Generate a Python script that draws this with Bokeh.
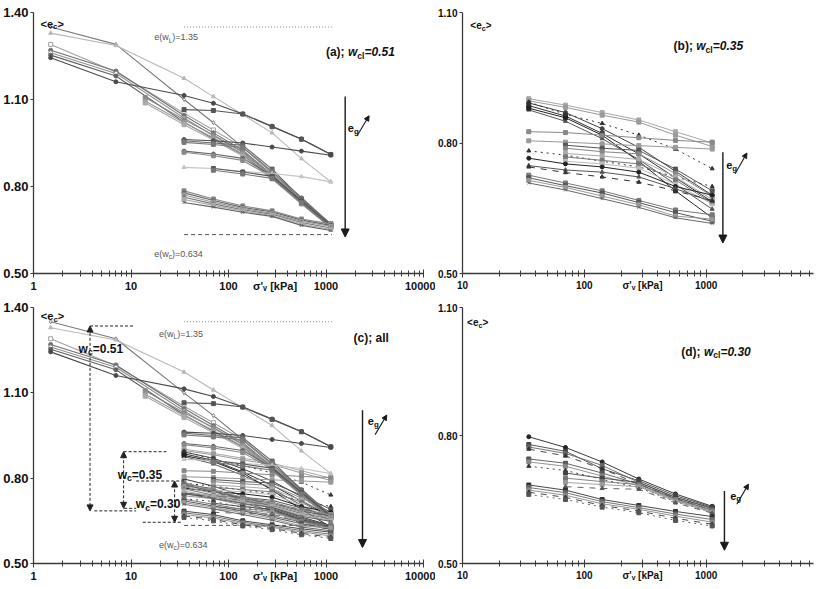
from bokeh.plotting import figure
from bokeh.layouts import column, row
from bokeh.models import FixedTicker, PrintfTickFormatter, Label, Arrow, NormalHead
from bokeh.embed import file_html
from bokeh.resources import INLINE

# ---------------------------------------------------------------- data
# vertical effective stress steps [kPa]
S_FULL = [1.5, 7, 35, 70, 140, 280, 560, 1120]
S_14 = [14, 35, 70, 140, 280, 560, 1120]
S_35 = [35, 70, 140, 280, 560, 1120]
S_70 = [70, 140, 280, 560, 1120]

# (a) w_cl = 0.51 : mean void ratio <e_c> along each compression curve
A_SIGMA = [S_FULL] * 7 + [S_14] * 3 + [S_35] * 7 + [S_70] * 2 + [S_35] * 6
A_E = [
    [1.350, 1.290, 1.100, 1.020, 0.935, 0.850, 0.762, 0.670],
    [1.329, 1.286, 1.173, 1.110, 1.048, 0.985, 0.896, 0.816],
    [1.290, 1.195, 1.053, 0.995, 0.935, 0.845, 0.755, 0.672],
    [1.270, 1.198, 1.045, 0.985, 0.925, 0.840, 0.750, 0.667],
    [1.261, 1.190, 1.036, 0.975, 0.918, 0.833, 0.745, 0.662],
    [1.253, 1.181, 1.022, 0.965, 0.910, 0.828, 0.740, 0.658],
    [1.244, 1.161, 1.114, 1.087, 1.050, 1.008, 0.964, 0.911],
    [1.107, 1.030, 0.978, 0.920, 0.838, 0.752, 0.668],
    [1.095, 1.020, 0.968, 0.912, 0.832, 0.746, 0.663],
    [1.088, 1.013, 0.960, 0.905, 0.826, 0.740, 0.660],
    [1.065, 1.062, 1.050, 1.006, 0.963, 0.910],
    [0.962, 0.958, 0.950, 0.936, 0.922, 0.908],
    [0.958, 0.950, 0.942, 0.860, 0.758, 0.670],
    [0.952, 0.945, 0.935, 0.852, 0.752, 0.666],
    [0.922, 0.912, 0.897, 0.838, 0.748, 0.664],
    [0.918, 0.906, 0.890, 0.832, 0.742, 0.660],
    [0.866, 0.862, 0.852, 0.845, 0.834, 0.816],
    [0.862, 0.850, 0.835, 0.750, 0.666],
    [0.856, 0.843, 0.828, 0.744, 0.661],
    [0.785, 0.757, 0.733, 0.716, 0.688, 0.671],
    [0.778, 0.752, 0.728, 0.712, 0.684, 0.666],
    [0.771, 0.746, 0.724, 0.708, 0.680, 0.662],
    [0.763, 0.740, 0.720, 0.704, 0.676, 0.657],
    [0.755, 0.735, 0.716, 0.700, 0.671, 0.652],
    [0.745, 0.729, 0.711, 0.697, 0.666, 0.648],
]

# (b) w_cl = 0.35
B_SIGMA = [S_35] * 10 + [S_70] * 5 + [S_35] * 7
B_E = [
    [0.902, 0.887, 0.870, 0.853, 0.826, 0.800],
    [0.897, 0.882, 0.864, 0.848, 0.818, 0.792],
    [0.892, 0.870, 0.833, 0.790, 0.735, 0.680],
    [0.886, 0.862, 0.822, 0.775, 0.720, 0.665],
    [0.876, 0.850, 0.810, 0.762, 0.705, 0.648],
    [0.880, 0.858, 0.818, 0.758, 0.690, 0.628],
    [0.894, 0.866, 0.845, 0.818, 0.786, 0.741],
    [0.826, 0.824, 0.818, 0.812, 0.806, 0.802],
    [0.805, 0.802, 0.798, 0.794, 0.790, 0.786],
    [0.782, 0.772, 0.758, 0.745, 0.722, 0.700],
    [0.795, 0.788, 0.783, 0.740, 0.690],
    [0.788, 0.780, 0.775, 0.730, 0.678],
    [0.776, 0.770, 0.762, 0.722, 0.670],
    [0.768, 0.760, 0.752, 0.715, 0.662],
    [0.758, 0.752, 0.742, 0.705, 0.660],
    [0.765, 0.752, 0.745, 0.733, 0.700, 0.680],
    [0.748, 0.738, 0.733, 0.722, 0.695, 0.665],
    [0.745, 0.732, 0.722, 0.710, 0.690, 0.668],
    [0.726, 0.708, 0.690, 0.668, 0.646, 0.635],
    [0.720, 0.702, 0.685, 0.663, 0.640, 0.620],
    [0.714, 0.698, 0.678, 0.658, 0.632, 0.625],
    [0.708, 0.692, 0.672, 0.652, 0.628, 0.615],
]

# (d) w_cl = 0.30
D_SIGMA = [S_35] * 7 + [S_70] * 4 + [S_35] * 5
D_E = [
    [0.797, 0.772, 0.738, 0.698, 0.663, 0.634],
    [0.779, 0.763, 0.722, 0.694, 0.659, 0.632],
    [0.773, 0.758, 0.730, 0.690, 0.655, 0.628],
    [0.768, 0.752, 0.722, 0.686, 0.652, 0.625],
    [0.745, 0.735, 0.712, 0.686, 0.652, 0.625],
    [0.738, 0.728, 0.705, 0.682, 0.648, 0.622],
    [0.728, 0.718, 0.697, 0.678, 0.645, 0.620],
    [0.712, 0.700, 0.690, 0.655, 0.630],
    [0.700, 0.692, 0.685, 0.650, 0.625],
    [0.690, 0.685, 0.680, 0.646, 0.620],
    [0.680, 0.676, 0.674, 0.642, 0.618],
    [0.684, 0.672, 0.650, 0.636, 0.622, 0.610],
    [0.678, 0.666, 0.645, 0.631, 0.616, 0.603],
    [0.672, 0.660, 0.640, 0.627, 0.611, 0.597],
    [0.667, 0.655, 0.636, 0.623, 0.606, 0.592],
    [0.662, 0.650, 0.632, 0.619, 0.601, 0.588],
]

# reference void ratios at the liquid limit and at the clay water content
E_WL = 1.35
E_WC = 0.634
REF_SIGMA = [35, 1150]

X_TICKS_A = [1, 10, 100, 1000, 10000]
X_TICKS_B = [10, 100, 1000]
Y_TICKS_A = [0.50, 0.80, 1.10, 1.40]
Y_TICKS_B = [0.50, 0.80, 1.10]
X_TITLE = "σ'ᵥ [kPa]"
X_TITLE_AT = 300  # the x title sits in the tick-label row at this stress

# ---------------------------------------------------------------- styles
A_STYLE = [
    ("#7a7a7a", "diamond", True, "solid"), ("#b8b8b8", "triangle", False, "solid"),
    ("#a0a0a0", "square", True, "solid"), ("#707070", "circle", False, "solid"),
    ("#909090", "circle", True, "solid"), ("#606060", "circle", False, "solid"),
    ("#4a4a4a", "circle", False, "solid"), ("#888888", "square", False, "solid"),
    ("#9a9a9a", "square", False, "solid"), ("#aaaaaa", "square", False, "solid"),
    ("#555555", "square", False, "solid"), ("#4a4a4a", "circle", False, "solid"),
    ("#666666", "square", False, "solid"), ("#7a7a7a", "square", False, "solid"),
    ("#666666", "circle", False, "solid"), ("#8a8a8a", "square", False, "solid"),
    ("#c4c4c4", "triangle", False, "solid"), ("#555555", "square", False, "solid"),
    ("#777777", "square", False, "solid"), ("#8a8a8a", "square", False, "solid"),
    ("#666666", "circle", False, "solid"), ("#9a9a9a", "square", False, "solid"),
    ("#777777", "triangle", False, "solid"), ("#aaaaaa", "square", False, "solid"),
    ("#666666", "x", False, "solid"),
]
B_STYLE = [
    ("#a8a8a8", "square", False, "solid"), ("#999999", "square", False, "solid"),
    ("#444444", "circle", False, "solid"), ("#333333", "square", False, "solid"),
    ("#555555", "triangle", False, "solid"), ("#222222", "square", False, "solid"),
    ("#333333", "triangle", False, "dotted"), ("#888888", "square", False, "solid"),
    ("#999999", "square", False, "solid"), ("#333333", "triangle", False, "dotted"),
    ("#555555", "square", False, "solid"), ("#888888", "square", False, "solid"),
    ("#aaaaaa", "square", False, "solid"), ("#777777", "square", False, "solid"),
    ("#bbbbbb", "square", False, "solid"), ("#222222", "circle", False, "solid"),
    ("#555555", "triangle", False, "solid"), ("#333333", "triangle", False, "dashed"),
    ("#777777", "square", False, "solid"), ("#555555", "square", False, "solid"),
    ("#999999", "square", False, "solid"), ("#666666", "x", False, "solid"),
]
D_STYLE = [
    ("#222222", "circle", False, "solid"), ("#444444", "square", False, "solid"),
    ("#666666", "square", False, "solid"), ("#333333", "triangle", False, "dashed"),
    ("#555555", "square", False, "solid"), ("#888888", "square", False, "solid"),
    ("#333333", "triangle", False, "dotted"), ("#444444", "square", False, "solid"),
    ("#777777", "square", False, "solid"), ("#999999", "square", False, "solid"),
    ("#555555", "triangle", False, "dashed"), ("#333333", "square", False, "solid"),
    ("#666666", "square", False, "solid"), ("#888888", "square", False, "solid"),
    ("#333333", "triangle", False, "dashed"), ("#555555", "square", False, "dotted"),
]

FONT = "Liberation Sans"
BOLD_W = {"0": .556, "1": .556, "2": .556, "3": .556, "4": .556, "5": .556, "6": .556,
          "7": .556, "8": .556, "9": .556, ".": .278, "(": .333, ")": .333, ";": .333,
          " ": .278, "=": .584, "<": .584, ">": .584, "e": .556, "w": .778, "c": .556,
          "l": .278, "a": .556, "b": .611, "d": .611, "L": .611, "g": .611}
REG_W = {"0": .556, "1": .556, "2": .556, "3": .556, "4": .556, "5": .556, "6": .556,
         "7": .556, "8": .556, "9": .556, ".": .278, "(": .333, ")": .333, ";": .278,
         " ": .278, "=": .584, "e": .556, "w": .722, "c": .5, "L": .556, "l": .222}


def text_width(s, size, bold):
    table = BOLD_W if bold else REG_W
    return sum(table.get(ch, 0.56) for ch in s) * size


def rich_label(p, x, y, parts, size=12, color="#111111"):
    """Place a run of text pieces; pieces flagged as sub are set lower and smaller."""
    off = 0.0
    for txt, style, sub in parts:
        fs = size * 0.72 if sub else size
        dy = -size * 0.3 if sub else 0
        p.add_layout(Label(x=x, y=y, x_offset=off, y_offset=dy, text=txt,
                           text_font=FONT, text_font_size=f"{fs:.1f}px",
                           text_font_style=style, text_color=color,
                           text_baseline="alphabetic", text_align="left"))
        off += text_width(txt, fs, "bold" in style)


def make_panel(width, height, x_range, y_range, x_ticks, y_ticks, borders,
               x_font, y_font):
    left, right, top, bottom = borders
    p = figure(width=width, height=height, x_axis_type="log",
               x_range=x_range, y_range=y_range,
               output_backend="svg", toolbar_location=None,
               min_border_left=left, min_border_right=right,
               min_border_top=top, min_border_bottom=bottom,
               background_fill_color="white", border_fill_color="white")
    p.outline_line_color = None
    p.grid.visible = False
    minors = [m * d for d in (1, 10, 100, 1000) for m in range(2, 10)
              if m * d != X_TITLE_AT]
    p.xaxis.ticker = FixedTicker(ticks=sorted(x_ticks + [X_TITLE_AT]),
                                 minor_ticks=minors)
    p.xaxis.formatter = PrintfTickFormatter(format="%d")
    p.xaxis.major_label_overrides = {X_TITLE_AT: X_TITLE}
    p.yaxis.ticker = FixedTicker(ticks=y_ticks)
    p.yaxis.formatter = PrintfTickFormatter(format="%.2f")
    for ax in (p.xaxis, p.yaxis):
        ax.axis_line_color = "#3a3a3a"
        ax.axis_line_width = 1.3
        ax.major_tick_line_color = "#3a3a3a"
        ax.major_tick_line_width = 1.0
        ax.minor_tick_line_color = "#3a3a3a"
        ax.major_label_text_font = FONT
        ax.major_label_text_font_style = "bold"
        ax.major_label_text_color = "#111111"
    p.xaxis.major_tick_in = 4
    p.xaxis.major_tick_out = 4
    p.xaxis.minor_tick_in = 3
    p.xaxis.minor_tick_out = 3
    p.xaxis.major_label_standoff = 2
    p.xaxis.major_label_text_font_size = x_font
    p.yaxis.major_tick_in = 0
    p.yaxis.major_tick_out = 3
    p.yaxis.minor_tick_line_color = None
    p.yaxis.major_label_standoff = 2
    p.yaxis.major_label_text_font_size = y_font
    return p


def draw_curves(p, sigmas, es, styles, lw):
    for xs, ys, (color, marker, hollow, dash) in zip(sigmas, es, styles):
        p.line(xs, ys, line_color=color, line_width=lw, line_dash=dash)
        p.scatter(xs, ys, marker=marker, size=4, line_color=color, line_width=1,
                  fill_color="white" if hollow else color)


def draw_arrow(p, x0, y0, x1, y1, size=8, lw=1.4):
    p.add_layout(Arrow(x_start=x0, y_start=y0, x_end=x1, y_end=y1,
                       line_color="#1a1a1a", line_width=lw,
                       end=NormalHead(size=size, fill_color="#1a1a1a",
                                      line_color="#1a1a1a")))


def eg_marker(p, xl, yl, ax0, ay0, ax1, ay1):
    rich_label(p, xl, yl, [("e", "bold", False), ("g", "bold", True)], size=11)
    draw_arrow(p, ax0, ay0, ax1, ay1, size=5, lw=1.1)


def ec_label(p, x, y, size=11):
    rich_label(p, x, y, [("<e", "bold", False), ("c", "bold", True),
                         (">", "bold", False)], size=size)


def limit_lines(p, xl, yl_top, yl_bot):
    p.line(REF_SIGMA, [E_WL, E_WL], line_color="#8a8a8a", line_width=1,
           line_dash="1 2")
    p.line(REF_SIGMA, [E_WC, E_WC], line_color="#555555", line_width=1,
           line_dash="4 3")
    rich_label(p, xl, yl_top, [("e(w", "normal", False), ("L", "normal", True),
                               (")=1.35", "normal", False)], size=9, color="#555555")
    rich_label(p, xl, yl_bot, [("e(w", "normal", False), ("c", "normal", True),
                               (")=0.634", "normal", False)], size=9, color="#555555")


def title(p, x, y, tag, wcl):
    rich_label(p, x, y, [(tag, "bold", False), ("w", "bold italic", False),
                         ("cl", "bold", True), (wcl, "bold italic", False)], size=12)


# ---------------------------------------------------------------- (a)
pa = make_panel(435, 294, (1, 10000), (0.5, 1.4), X_TICKS_A, Y_TICKS_A,
                (32, 12, 12, 19), "11px", "13px")
limit_lines(pa, 17.3, 1.314, 0.568)
draw_curves(pa, A_SIGMA, A_E, A_STYLE, 1.1)
ec_label(pa, 1.18, 1.362)
title(pa, 998, 1.263, "(a); ", "=0.51")
draw_arrow(pa, 1573, 1.110, 1573, 0.626)
eg_marker(pa, 1675, 1.002, 2071, 0.973, 2768, 1.044)

# ---------------------------------------------------------------- (b)
pb = make_panel(387, 294, (10, 7600), (0.5, 1.1), X_TICKS_B, Y_TICKS_B,
                (27, 9, 12, 18), "10px", "10px")
draw_curves(pb, B_SIGMA, B_E, B_STYLE, 1.0)
ec_label(pb, 11.6, 1.070, size=10)
title(pb, 540, 1.023, "(b); ", "=0.35")
draw_arrow(pb, 1371, 0.779, 1371, 0.570)
eg_marker(pb, 1459, 0.750, 1729, 0.7295, 2159, 0.777)

# ---------------------------------------------------------------- (c)
pc = make_panel(435, 295, (1, 10000), (0.5, 1.4), X_TICKS_A, Y_TICKS_A,
                (32, 12, 8, 26), "11px", "13px")
limit_lines(pc, 19.4, 1.306, 0.566)
draw_curves(pc, D_SIGMA, D_E, D_STYLE, 0.9)
draw_curves(pc, B_SIGMA, B_E, B_STYLE, 1.0)
draw_curves(pc, A_SIGMA, A_E, A_STYLE, 1.1)
ec_label(pc, 1.19, 1.370)
rich_label(pc, 1916, 1.292, [("(c); all", "bold", False)], size=12)
draw_arrow(pc, 2368, 1.039, 2368, 0.556)
eg_marker(pc, 2684, 1.000, 3190, 0.953, 4200, 1.022)

# water-content brackets
BRACKETS = [
    # x of arrow, bottom e, top e, top line span, bottom line span, label pos, text
    (3.8, 0.685, 1.335, (3.8, 10.6), (4.2, 11.3), (2.9, 1.255), "=0.51"),
    (8.4, 0.694, 0.893, (8.4, 23.0), (8.5, 11.3), (7.3, 0.812), "=0.35"),
    (28.0, 0.645, 0.790, (11.3, 35.0), (13.2, 34.0), (11.2, 0.708), "=0.30"),
]
for xa, e_lo, e_hi, top_span, bot_span, (lx, ly), txt in BRACKETS:
    pc.line(list(top_span), [e_hi, e_hi], line_color="#222222", line_width=1,
            line_dash="3 2")
    pc.line(list(bot_span), [e_lo, e_lo], line_color="#222222", line_width=1,
            line_dash="3 2")
    pc.add_layout(Arrow(x_start=xa, y_start=e_lo, x_end=xa, y_end=e_hi,
                        line_color="#222222", line_width=1, line_dash="3 2",
                        start=NormalHead(size=6, fill_color="#222222",
                                         line_color="#222222"),
                        end=NormalHead(size=6, fill_color="#222222",
                                       line_color="#222222")))
    rich_label(pc, lx, ly, [("w", "bold", False), ("c", "bold", True),
                            (txt, "bold", False)], size=12)

# ---------------------------------------------------------------- (d)
pd_ = make_panel(387, 295, (10, 7600), (0.5, 1.1), X_TICKS_B, Y_TICKS_B,
                 (27, 9, 13, 24), "10px", "10px")
draw_curves(pd_, D_SIGMA, D_E, D_STYLE, 0.9)
ec_label(pd_, 10.9, 1.066, size=10)
title(pd_, 624, 0.996, "(d); ", "=0.30")
draw_arrow(pd_, 1412, 0.670, 1412, 0.531)
eg_marker(pd_, 1574, 0.659, 1785, 0.639, 2222, 0.686)

layout = column(row(pa, pb), row(pc, pd_))

with open("out.html", "w") as f:
    f.write(file_html(layout, INLINE))
